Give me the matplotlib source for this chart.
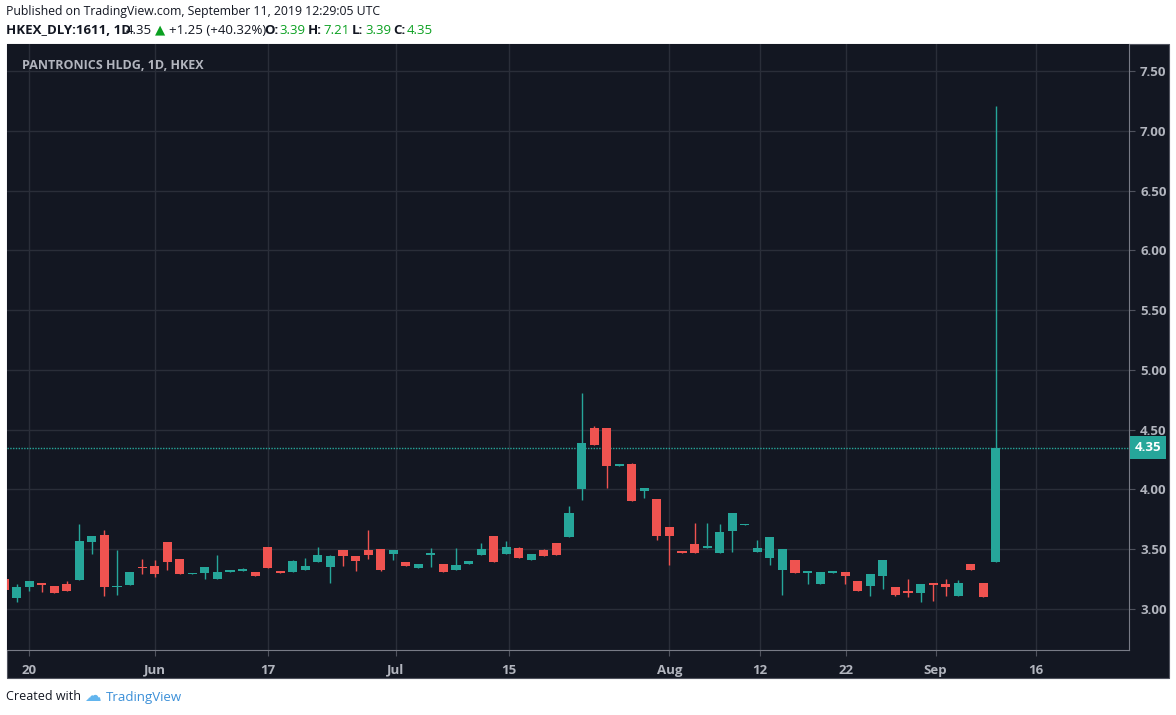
import numpy as np
import matplotlib
matplotlib.use("Agg")
import matplotlib.pyplot as plt
from matplotlib.patches import Rectangle

# Daily OHLC, PANTRONICS HLDG (HKEX:1611)
opens = [3.25, 3.09, 3.18, 3.22, 3.19, 3.21, 3.24, 3.56, 3.62, 3.18,
         3.20, 3.35, 3.36, 3.56, 3.42, 3.29, 3.30, 3.25, 3.31, 3.32,
         3.31, 3.52, 3.32, 3.31, 3.33, 3.39, 3.35, 3.49, 3.44, 3.49,
         3.50, 3.46, 3.39, 3.34, 3.45, 3.38, 3.33, 3.38, 3.45, 3.61,
         3.46, 3.51, 3.41, 3.49, 3.55, 3.60, 4.00, 4.51, 4.51, 4.20,
         4.21, 3.99, 3.92, 3.69, 3.48, 3.54, 3.51, 3.47, 3.65, 3.70,
         3.48, 3.43, 3.33, 3.41, 3.30, 3.21, 3.30, 3.31, 3.23, 3.19,
         3.28, 3.18, 3.15, 3.13, 3.22, 3.21, 3.11, 3.38, 3.22, 3.39]
highs = [3.26, 3.21, 3.23, 3.22, 3.19, 3.23, 3.71, 3.61, 3.66, 3.49,
         3.31, 3.42, 3.41, 3.56, 3.42, 3.30, 3.35, 3.45, 3.33, 3.34,
         3.31, 3.52, 3.32, 3.41, 3.43, 3.52, 3.45, 3.49, 3.44, 3.66,
         3.50, 3.49, 3.39, 3.38, 3.51, 3.38, 3.51, 3.40, 3.55, 3.61,
         3.57, 3.52, 3.46, 3.50, 3.55, 3.86, 4.81, 4.53, 4.51, 4.21,
         4.22, 4.01, 3.92, 3.69, 3.48, 3.72, 3.72, 3.71, 3.80, 3.71,
         3.58, 3.60, 3.50, 3.41, 3.32, 3.31, 3.32, 3.31, 3.23, 3.29,
         3.41, 3.18, 3.25, 3.21, 3.22, 3.25, 3.24, 3.38, 3.22, 7.21]
lows = [3.16, 3.06, 3.15, 3.14, 3.13, 3.15, 3.24, 3.46, 3.11, 3.12,
        3.20, 3.29, 3.27, 3.33, 3.29, 3.29, 3.25, 3.25, 3.31, 3.32,
        3.28, 3.34, 3.30, 3.31, 3.33, 3.39, 3.22, 3.36, 3.32, 3.42,
        3.32, 3.41, 3.36, 3.34, 3.35, 3.31, 3.33, 3.38, 3.45, 3.39,
        3.46, 3.43, 3.41, 3.44, 3.45, 3.60, 3.91, 4.37, 4.01, 4.20,
        3.90, 3.93, 3.58, 3.37, 3.47, 3.47, 3.51, 3.47, 3.48, 3.70,
        3.48, 3.37, 3.12, 3.30, 3.21, 3.21, 3.30, 3.21, 3.15, 3.11,
        3.17, 3.11, 3.10, 3.06, 3.07, 3.11, 3.11, 3.33, 3.10, 3.39]
closes = [3.16, 3.18, 3.23, 3.20, 3.13, 3.15, 3.57, 3.61, 3.18, 3.19,
          3.31, 3.34, 3.29, 3.39, 3.29, 3.30, 3.35, 3.31, 3.33, 3.33,
          3.28, 3.34, 3.30, 3.40, 3.36, 3.45, 3.44, 3.44, 3.40, 3.45,
          3.33, 3.49, 3.36, 3.38, 3.46, 3.31, 3.37, 3.40, 3.50, 3.39,
          3.52, 3.43, 3.46, 3.44, 3.45, 3.80, 4.39, 4.37, 4.20, 4.21,
          3.90, 4.01, 3.61, 3.61, 3.47, 3.47, 3.52, 3.64, 3.80, 3.71,
          3.51, 3.60, 3.50, 3.30, 3.32, 3.31, 3.31, 3.28, 3.15, 3.29,
          3.41, 3.12, 3.13, 3.21, 3.20, 3.18, 3.22, 3.33, 3.10, 4.35]

tick_pos = [2, 12, 21, 31.2, 40.2, 53, 60.2, 67.1, 74.2, 82.2]
tick_labels = ["20", "Jun", "17", "Jul", "15", "Aug", "12", "22", "Sep", "16"]
price_ticks = [3.0, 3.5, 4.0, 4.5, 5.0, 5.5, 6.0, 6.5, 7.0, 7.5]
last_price = 4.35

UP, DOWN = "#26a69a", "#ef5350"
BG, GRID, TXT = "#131722", "#2a2e39", "#b2b5be"

W, H = 1176, 715
fig = plt.figure(figsize=(W / 100, H / 100), dpi=100)
fig.patch.set_facecolor("white")
plt.rcParams['font.family'] = ['Open Sans', 'DejaVu Sans']

def fx(px): return px / W
def fy(py): return 1 - py / H

# dark frame including the price scale and time scale
fig.add_artist(Rectangle((fx(7), fy(678)), fx(1169) - fx(7), fy(44) - fy(678),
                         transform=fig.transFigure, facecolor=BG, edgecolor="#50535e",
                         lw=0.8, zorder=-5))

ax = fig.add_axes([fx(7), fy(650), fx(1129) - fx(7), fy(44) - fy(650)])
ax.set_zorder(2)
ax.set_facecolor(BG)
ax.set_xlim(0.24, 89.6)
ax.set_ylim(2.657, 7.726)

x = np.arange(len(opens))
o, h, l, c = map(np.array, (opens, highs, lows, closes))
cols = np.where(c >= o, UP, DOWN)
ax.vlines(x, l, h, colors=cols, lw=1, zorder=2)
bottoms = np.minimum(o, c)
heights = np.maximum(np.abs(c - o), 0.015)
ax.bar(x, heights, bottom=bottoms, width=0.72, color=cols, zorder=3, linewidth=0)

ax.axhline(last_price, color=UP, ls=(0, (1, 1)), lw=1, zorder=1)

ax.set_xticks(tick_pos)
ax.set_xticklabels(tick_labels)
ax.set_yticks(price_ticks)
ax.set_yticklabels([f"{p:.2f}" for p in price_ticks])
ax.yaxis.tick_right()
ax.set_axisbelow(True)
ax.grid(True, color=GRID, lw=1)
ax.tick_params(labelsize=9.5, length=4)
ax.tick_params(axis="x", colors="#50535e", labelcolor=TXT, pad=6)
ax.tick_params(axis="y", colors="#50535e", labelcolor=TXT, pad=4)
for lbl in ax.get_xticklabels() + ax.get_yticklabels():
    lbl.set_fontweight("bold")
for side in ("top", "left"):
    ax.spines[side].set_visible(False)
ax.spines["right"].set_color("#787b86")
ax.spines["bottom"].set_color("#787b86")

ax.text(1.005, last_price, f"{last_price:.2f}", transform=ax.get_yaxis_transform(),
        ha="left", va="center", color="white", fontsize=9.5, fontweight="bold",
        bbox=dict(boxstyle="square,pad=0.35", fc=UP, ec="none"), clip_on=False)

ax.text(fx(15) / (fx(1129) - fx(7)) - 0.0, 0.975, "PANTRONICS HLDG, 1D, HKEX",
        transform=ax.transAxes, color=TXT, fontsize=9, fontweight="bold",
        va="top", ha="left")

# header texts
fig.text(fx(6), fy(12), "Published on TradingView.com, September 11, 2019 12:29:05 UTC",
         fontsize=8.8, va="center", color="#131722")
GR = "#0aa020"
parts = [("HKEX_DLY:1611, 1D", "#131722", "bold", 6),
         ("4.35", "#131722", "normal", 126),
         ("\u25b2", GR, "normal", 155),
         ("+1.25 (+40.32%)", "#131722", "normal", 169),
         ("O:", "#131722", "bold", 264), ("3.39", GR, "normal", 279),
         ("H:", "#131722", "bold", 308), ("7.21", GR, "normal", 323),
         ("L:", "#131722", "bold", 352), ("3.39", GR, "normal", 365),
         ("C:", "#131722", "bold", 393), ("4.35", GR, "normal", 407)]
for s, col, wt, px in parts:
    fig.text(fx(px), fy(30), s, fontsize=9.5, color=col, fontweight=wt, va="center")

fig.text(fx(6), fy(697), "Created with", fontsize=9, va="center", color="#131722")
fig.text(fx(106), fy(697), "TradingView", fontsize=9.5, va="center", color="#3a8fd8")
fig.text(fx(84), fy(697), "\u2601", fontsize=12, va="center", color="#62b5ee")

fig.savefig("out.png", dpi=100, facecolor=fig.get_facecolor())
